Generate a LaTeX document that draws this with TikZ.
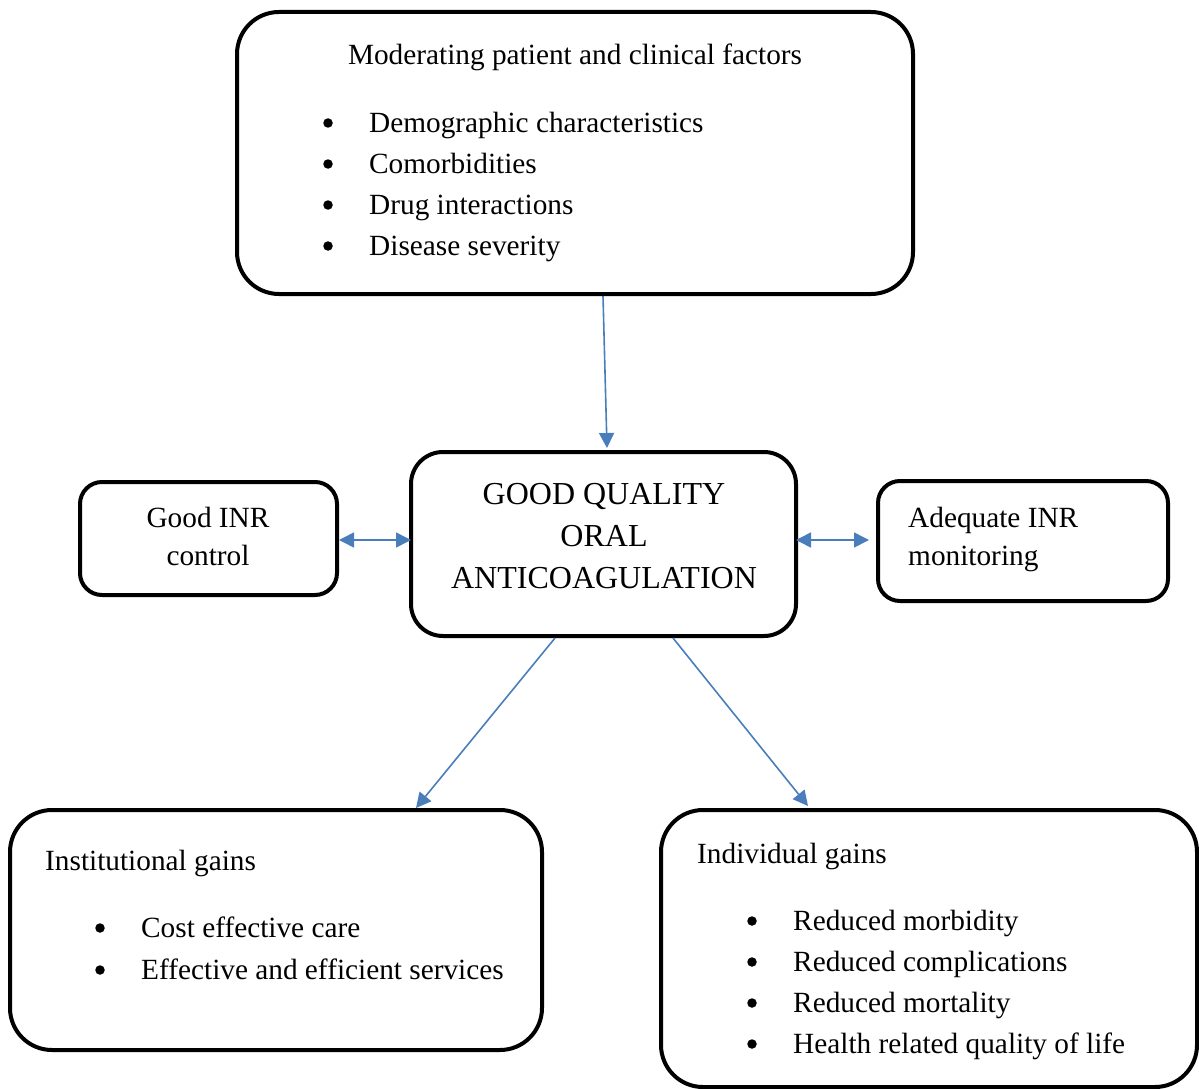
\documentclass[tikz,border=0pt]{standalone}
\usepackage{fontspec}
\setmainfont{Liberation Serif}
\usetikzlibrary{arrows.meta,calc}
\definecolor{arrowblue}{HTML}{4A7EBB}
\begin{document}
\begin{tikzpicture}[x=1pt,y=-1pt,
  box/.style={draw=black,line width=4pt,rounded corners=42pt,inner sep=0pt},
  sbox/.style={draw=black,line width=4pt,rounded corners=22pt,inner sep=0pt},
  txt/.style={anchor=base west,inner sep=0pt,font=\fontsize{29.3}{34}\selectfont},
  ctxt/.style={anchor=base,inner sep=0pt,font=\fontsize{29.3}{34}\selectfont},
  bigtxt/.style={anchor=base,inner sep=0pt,font=\fontsize{32}{38}\selectfont},
  bul/.style={circle,fill=black,inner sep=0pt,minimum size=9.5pt},
  conn/.style={draw=arrowblue,line width=1.6pt,-{Triangle[length=15pt,width=15pt]}},
  dconn/.style={draw=arrowblue,line width=1.6pt,{Triangle[length=15pt,width=15pt]}-{Triangle[length=15pt,width=15pt]}}]
\useasboundingbox (0,0) rectangle (1199,1089);
% boxes
\node[box,minimum width=676pt,minimum height=282pt] (top) at (575,153) {};
\node[sbox,rounded corners=32pt,minimum width=385pt,minimum height=184pt] (ctr) at (603.5,544) {};
\node[sbox,minimum width=257pt,minimum height=113pt] (lft) at (208.5,538.5) {};
\node[sbox,minimum width=290pt,minimum height=120pt] (rgt) at (1023,541) {};
\node[box,minimum width=532pt,minimum height=240pt] (bl) at (276,930) {};
\node[box,minimum width=536pt,minimum height=277pt] (br) at (929,948.5) {};
% top text
\node[ctxt] (tt) at (575,65) {Moderating patient and clinical factors};
\foreach \y/\t [count=\i] in {132/Demographic characteristics,173/Comorbidities,214/Drug interactions,255/Disease severity}{
  \node[txt] (tb\i) at (369,\y) {\t};
  \node[bul] (tbb\i) at (328,\y-9) {};
}
% centre text
\node[bigtxt] (c1) at (604,504) {GOOD QUALITY};
\node[bigtxt] (c2) at (604,546) {ORAL};
\node[bigtxt] (c3) at (604,588) {ANTICOAGULATION};
% left/right text
\node[ctxt] (l1) at (208,527) {Good INR};
\node[ctxt] (l2) at (208,565) {control};
\node[txt] (r1) at (908,527) {Adequate INR};
\node[txt] (r2) at (908,565) {monitoring};
% bottom left
\node[txt] (blt) at (45,870) {Institutional gains};
\foreach \y/\t [count=\i] in {937/Cost effective care,979/Effective and efficient services}{
  \node[txt] (bl\i) at (141,\y) {\t};
  \node[bul] (blb\i) at (100,\y-9) {};
}
% bottom right
\node[txt] (brt) at (697,863) {Individual gains};
\foreach \y/\t [count=\i] in {930/Reduced morbidity,971/Reduced complications,1012/Reduced mortality,1053/Health related quality of life}{
  \node[txt] (br\i) at (793,\y) {\t};
  \node[bul] (brb\i) at (752,\y-9) {};
}
% connectors
\draw[conn] ([xshift=28pt]top.south) -- ([xshift=3.5pt,yshift=2pt]ctr.north);
\draw[dconn] (lft.east |- 0,540) -- ([xshift=2pt]ctr.west |- 0,540);
\draw[dconn] ([xshift=-2pt]ctr.east |- 0,540) -- ([xshift=-7pt]rgt.west |- 0,540);
\draw[conn] ([xshift=-48.5pt]ctr.south) -- ([xshift=140pt]bl.north);
\draw[conn] ([xshift=69.5pt]ctr.south) -- ([xshift=-121pt,yshift=2pt]br.north);
\end{tikzpicture}
\end{document}
